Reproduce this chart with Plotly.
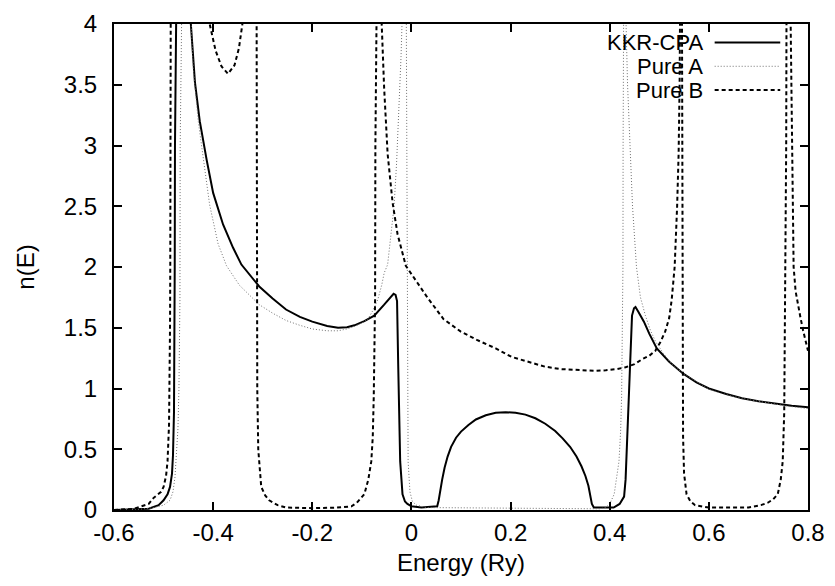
import plotly.graph_objects as go

# Density of states n(E) vs energy (Ry)
cpa_e = [-0.60, -0.56, -0.53, -0.51, -0.50, -0.492, -0.487, -0.483, -0.481, -0.479, -0.478,
         -0.4775, -0.477, -0.4765, -0.47, -0.455, -0.445, -0.4367, -0.427, -0.413, -0.40,
         -0.38, -0.36, -0.343, -0.325, -0.307, -0.28, -0.253, -0.225, -0.20, -0.17, -0.148,
         -0.13, -0.115, -0.095, -0.075, -0.055, -0.045, -0.036, -0.032, -0.029, -0.0267,
         -0.0227, -0.018, -0.013, -0.008, 0.0, 0.02, 0.045, 0.052, 0.055, 0.058, 0.062,
         0.067, 0.073, 0.08, 0.09, 0.10, 0.115, 0.13, 0.15, 0.17, 0.19, 0.21, 0.23, 0.25,
         0.27, 0.29, 0.305, 0.32, 0.333, 0.343, 0.351, 0.357, 0.361, 0.364, 0.368, 0.38,
         0.408, 0.42, 0.429, 0.432, 0.435, 0.438, 0.44, 0.443, 0.445, 0.449, 0.452, 0.458,
         0.469, 0.48, 0.495, 0.52, 0.549, 0.575, 0.60, 0.635, 0.667, 0.70, 0.733, 0.767, 0.80]
cpa_n = [0.0, 0.005, 0.01, 0.04, 0.08, 0.13, 0.19, 0.3, 0.45, 0.8, 1.2,
         2.0, 3.0, 4.2, 6.0, 5.0, 4.0, 3.52, 3.2, 2.88, 2.61,
         2.35, 2.16, 2.02, 1.93, 1.84, 1.74, 1.65, 1.59, 1.55, 1.515, 1.50,
         1.505, 1.52, 1.555, 1.60, 1.69, 1.74, 1.78, 1.77, 1.72, 1.2,
         0.4, 0.13, 0.07, 0.05, 0.03, 0.02, 0.025, 0.03, 0.08, 0.16, 0.25,
         0.35, 0.44, 0.52, 0.595, 0.645, 0.70, 0.745, 0.78, 0.80, 0.805, 0.80, 0.785, 0.755,
         0.71, 0.65, 0.59, 0.52, 0.44, 0.36, 0.28, 0.20, 0.12, 0.05, 0.02, 0.02,
         0.02, 0.05, 0.11, 0.25, 0.56, 0.95, 1.23, 1.45, 1.6, 1.66, 1.67, 1.63,
         1.55, 1.45, 1.33, 1.22, 1.12, 1.05, 1.0, 0.955, 0.92, 0.895, 0.875, 0.858, 0.845]

pure_a_e = [-0.60, -0.55, -0.52, -0.50, -0.487, -0.481, -0.477, -0.474, -0.471, -0.469,
            -0.467, -0.4665, -0.466, -0.458, -0.448, -0.44, -0.43, -0.42, -0.407, -0.39,
            -0.373, -0.347, -0.307, -0.28, -0.253, -0.225, -0.20, -0.17, -0.148, -0.13,
            -0.115, -0.10, -0.088, -0.078, -0.068, -0.06, -0.055, -0.048, -0.042, -0.035,
            -0.03, -0.026, -0.021, -0.019, -0.015, -0.0105, -0.0093, -0.008, -0.0067,
            -0.003, 0.002, 0.01, 0.03, 0.38, 0.392, 0.40, 0.409, 0.4187, 0.422, 0.424,
            0.4255, 0.4267, 0.427, 0.4275, 0.43, 0.433, 0.436, 0.441, 0.446, 0.454, 0.462,
            0.472, 0.482, 0.492, 0.508, 0.525, 0.548, 0.572, 0.60, 0.625, 0.66, 0.692,
            0.725, 0.759, 0.80]
pure_a_n = [0.0, 0.005, 0.02, 0.04, 0.08, 0.15, 0.27, 0.45, 0.67, 1.0,
            1.73, 3.0, 4.3, 6.0, 4.3, 3.63, 3.2, 2.88, 2.51, 2.19,
            2.01, 1.85, 1.69, 1.62, 1.56, 1.52, 1.49, 1.475, 1.475, 1.49,
            1.51, 1.54, 1.57, 1.64, 1.73, 1.85, 1.95, 2.02, 2.25, 2.5,
            2.85, 3.2, 3.73, 4.0, 6.0, 4.2, 2.5, 1.0, 0.4,
            0.15, 0.07, 0.04, 0.02, 0.01, 0.02, 0.05, 0.13, 0.4, 0.65, 0.93,
            1.5, 2.0, 3.0, 4.2, 6.0, 4.0, 3.5, 3.0, 2.5, 2.0, 1.75,
            1.6, 1.48, 1.39, 1.29, 1.2, 1.125, 1.065, 0.995, 0.96, 0.925, 0.9,
            0.875, 0.855, 0.835]

pure_b_e = [-0.60, -0.56, -0.53, -0.52, -0.505, -0.50, -0.495, -0.492, -0.489, -0.488,
            -0.487, -0.4865, -0.486, -0.4855, -0.48, -0.45, -0.42, -0.407, -0.395, -0.383,
            -0.37, -0.357, -0.348, -0.341, -0.33, -0.318, -0.3125, -0.312, -0.3115, -0.311,
            -0.309, -0.306, -0.303, -0.295, -0.287, -0.27, -0.253, -0.20, -0.15, -0.121,
            -0.11, -0.095, -0.087, -0.081, -0.078, -0.076, -0.0733, -0.0727, -0.072, -0.066,
            -0.06, -0.055, -0.048, -0.038, -0.028, -0.0113, 0.012, 0.032, 0.065, 0.099,
            0.132, 0.17, 0.202, 0.235, 0.269, 0.30, 0.335, 0.37, 0.392, 0.415, 0.432, 0.45,
            0.465, 0.48, 0.492, 0.502, 0.512, 0.52, 0.525, 0.531, 0.536, 0.539, 0.541, 0.542,
            0.544, 0.5455, 0.5467, 0.547, 0.548, 0.55, 0.555, 0.563, 0.572, 0.60, 0.68,
            0.705, 0.719, 0.73, 0.739, 0.745, 0.749, 0.752, 0.753, 0.755, 0.756, 0.7567,
            0.761, 0.765, 0.768, 0.771, 0.775, 0.78, 0.785, 0.79, 0.795, 0.80]
pure_b_n = [0.0, 0.01, 0.05, 0.1, 0.15, 0.19, 0.28, 0.4, 0.7, 0.93,
            1.5, 2.0, 3.0, 4.2, 7.0, 5.5, 4.5, 4.0, 3.78, 3.65,
            3.59, 3.66, 3.8, 4.0, 4.6, 6.0, 4.5, 3.0, 2.0, 1.0,
            0.5, 0.3, 0.19, 0.12, 0.08, 0.04, 0.02, 0.015, 0.02, 0.03,
            0.06, 0.13, 0.25, 0.4, 0.6, 0.93, 1.73, 3.0, 4.2, 6.0,
            4.0, 3.47, 2.93, 2.53, 2.27, 2.01, 1.87, 1.75, 1.57, 1.47,
            1.40, 1.33, 1.26, 1.22, 1.18, 1.16, 1.15, 1.145, 1.15, 1.16, 1.175, 1.2,
            1.24, 1.27, 1.31, 1.38, 1.47, 1.58, 1.73, 2.0, 2.5, 2.93, 3.5, 4.0,
            5.5, 4.5, 3.0, 1.5, 0.6, 0.3, 0.13, 0.07, 0.04, 0.02, 0.02,
            0.04, 0.06, 0.09, 0.13, 0.25, 0.4, 0.8, 1.2, 2.0, 3.0, 4.2,
            6.0, 4.0, 2.9, 2.0, 1.8, 1.68, 1.58, 1.48, 1.39, 1.31]

x_ticks = [-0.6, -0.4, -0.2, 0.0, 0.2, 0.4, 0.6, 0.8]
x_tick_labels = ["-0.6", "-0.4", "-0.2", "0", "0.2", "0.4", "0.6", "0.8"]
y_ticks = [0, 0.5, 1, 1.5, 2, 2.5, 3, 3.5, 4]
y_tick_labels = ["0", "0.5", "1", "1.5", "2", "2.5", "3", "3.5", "4"]

series_names = ["KKR-CPA", "Pure A", "Pure B"]
series_styles = [
    dict(color="black", width=2, dash="solid"),
    dict(color="#707070", width=1, dash="1px,2px"),
    dict(color="black", width=2, dash="4px,3px"),
]

FONT = "Liberation Sans, Arial, Helvetica, sans-serif"
FS = 24
KEY_FS = 22

fig = go.Figure()
for name, xs, ys, style in zip(series_names,
                               [cpa_e, pure_a_e, pure_b_e],
                               [cpa_n, pure_a_n, pure_b_n],
                               series_styles):
    fig.add_trace(go.Scatter(x=xs, y=ys, mode="lines", name=name,
                             line=style, showlegend=False))

# gnuplot-style key: right-aligned labels with line samples to their right
key_rows_y = [0.962, 0.913, 0.864]
for name, style, ky in zip(series_names, series_styles, key_rows_y):
    fig.add_annotation(xref="paper", yref="paper", x=0.850, y=ky,
                       text=name, showarrow=False, xanchor="right", yanchor="middle",
                       borderpad=0,
                       font=dict(family=FONT, size=KEY_FS, color="black"))
    fig.add_shape(type="line", xref="paper", yref="paper",
                  x0=0.8655, x1=0.960, y0=ky, y1=ky, line=style)

axis_common = dict(
    showline=True, linecolor="black", linewidth=2, mirror="allticks",
    ticks="inside", ticklen=8, tickwidth=1.5, tickcolor="black",
    showgrid=False, zeroline=False, ticklabeloverflow="allow",
    tickfont=dict(family=FONT, size=FS, color="black"),
)

fig.update_xaxes(range=[-0.6, 0.8], tickvals=x_ticks, ticktext=x_tick_labels,
                 title=dict(text="Energy (Ry)", font=dict(family=FONT, size=FS, color="black"),
                            standoff=9),
                 ticklabelstandoff=0, **axis_common)
fig.update_yaxes(range=[0, 4], tickvals=y_ticks, ticktext=y_tick_labels,
                 title=dict(text="n(E)", font=dict(family=FONT, size=FS, color="black"),
                            standoff=22),
                 ticklabelstandoff=10, **axis_common)

fig.update_layout(
    width=835, height=586,
    margin=dict(l=114, r=22, t=10, b=76),
    paper_bgcolor="white", plot_bgcolor="white",
    font=dict(family=FONT, size=FS, color="black"),
)

fig.write_html("out.html")
